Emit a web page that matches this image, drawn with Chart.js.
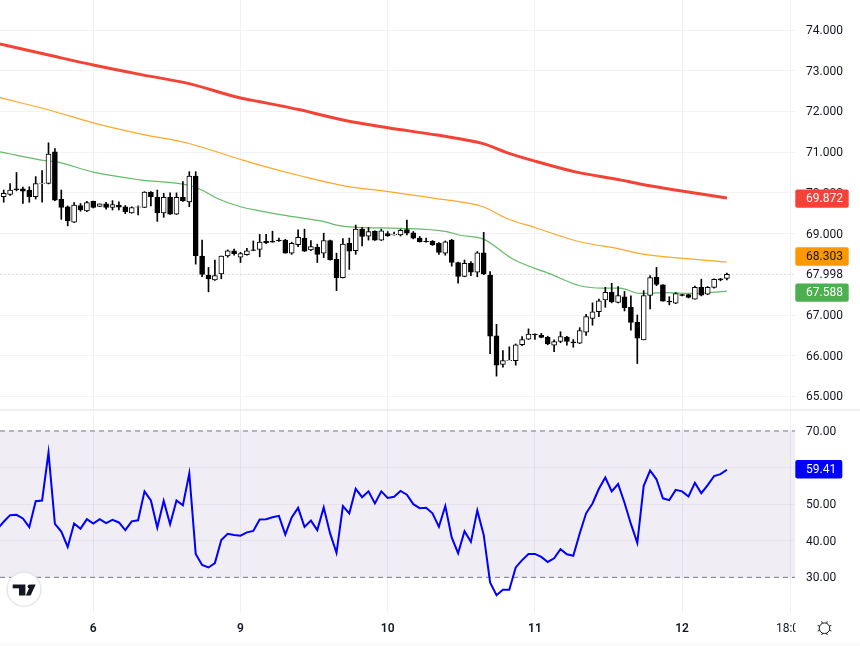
<!DOCTYPE html>
<html><head><meta charset="utf-8">
<style>html,body{margin:0;padding:0;background:#fff}canvas{display:block}</style>
<script src="https://cdn.jsdelivr.net/npm/chart.js@4"></script>
</head><body><canvas id="p" width="860" height="410"></canvas><canvas id="r" width="860" height="236"></canvas>
<script>
const opens=[69.91,69.96,70.10,70.10,70.07,69.91,70.23,70.23,71.01,69.84,69.66,69.28,69.69,69.56,69.79,69.67,69.73,69.64,69.70,69.66,69.51,69.65,69.64,70.02,69.89,69.51,69.89,69.48,69.89,69.78,
70.41,68.45,67.98,67.86,68.01,68.45,68.58,68.42,68.48,68.60,68.61,68.81,68.81,68.84,68.84,68.52,68.73,68.89,68.60,68.66,68.52,68.83,68.37,67.92,68.76,68.58,69.11,68.94,69.06,68.84,
69.00,68.97,68.97,69.10,69.02,68.89,68.81,68.81,68.76,68.52,68.84,68.29,67.95,68.27,68.05,68.53,67.98,66.49,65.79,65.88,65.88,66.27,66.41,66.53,66.51,66.45,66.26,66.35,66.46,66.34,
66.31,66.58,66.92,67.08,67.37,67.56,67.31,67.45,67.19,66.82,66.39,67.48,67.93,67.74,67.34,67.29,67.50,67.50,67.39,67.68,67.51,67.68,67.89,67.90];
const highs=[70.07,70.23,70.50,70.14,70.15,70.40,70.55,71.23,71.09,70.07,69.68,69.76,69.74,69.79,69.80,69.73,69.77,69.81,69.78,69.69,69.66,69.68,70.03,70.03,70.07,69.99,70.00,70.00,70.28,70.52,
70.52,68.84,68.17,68.35,68.45,68.60,68.62,68.54,68.64,68.82,68.98,68.98,69.06,68.89,68.86,68.79,69.09,69.11,68.83,68.74,69.01,68.84,68.52,68.88,68.89,69.21,69.15,69.15,69.07,69.11,
69.05,69.04,69.11,69.33,69.05,68.93,68.89,68.83,68.78,68.82,68.86,68.30,68.35,68.31,68.56,69.03,68.07,66.77,66.13,66.22,66.29,66.47,66.66,66.54,66.55,66.48,66.39,66.59,66.48,66.40,
66.69,67.02,67.30,67.39,67.68,67.78,67.70,67.58,67.47,67.00,67.60,67.97,68.17,67.75,67.45,67.55,67.51,67.51,67.71,67.88,67.70,67.89,67.90,68.03];
const lows=[69.77,69.94,70.05,69.74,69.77,69.85,69.77,70.22,69.81,69.35,69.19,69.27,69.55,69.54,69.63,69.66,69.60,69.58,69.58,69.49,69.50,69.46,69.64,69.68,69.30,69.40,69.47,69.47,69.79,69.66,
68.25,67.94,67.57,67.85,67.89,68.42,68.47,68.29,68.47,68.58,68.43,68.75,68.79,68.81,68.52,68.49,68.68,68.56,68.58,68.29,68.41,68.35,67.60,67.91,68.12,68.49,68.70,68.84,68.83,68.83,
68.93,68.96,68.94,68.97,68.87,68.79,68.79,68.71,68.49,68.47,68.20,67.78,67.94,67.97,67.94,67.99,66.05,65.50,65.72,65.88,65.77,66.25,66.40,66.40,66.44,66.27,66.10,66.32,66.26,66.21,
66.30,66.50,66.75,66.96,67.19,67.30,67.30,67.10,66.63,65.81,66.39,67.15,67.72,67.34,67.25,67.28,67.47,67.42,67.39,67.47,67.50,67.66,67.84,67.86];
const closes=[69.99,70.07,70.08,70.04,69.91,70.23,70.24,70.95,69.82,69.64,69.31,69.70,69.58,69.76,69.64,69.73,69.64,69.71,69.65,69.54,69.64,69.66,70.02,69.91,69.51,69.89,69.48,69.89,69.80,70.41,
68.46,68.00,67.89,67.97,68.45,68.58,68.51,68.51,68.58,68.59,68.79,68.78,68.79,68.82,68.52,68.76,68.91,68.57,68.68,68.49,68.83,68.36,67.92,68.74,68.57,69.11,68.93,69.05,68.84,69.07,
68.95,68.98,69.08,69.01,68.89,68.80,68.80,68.72,68.54,68.80,68.29,67.95,68.27,68.05,68.53,68.01,66.48,65.77,65.88,65.89,66.27,66.40,66.53,66.51,66.45,66.29,66.35,66.47,66.35,66.32,
66.62,66.96,67.08,67.35,67.56,67.33,67.48,67.18,66.82,66.43,67.48,67.92,67.75,67.34,67.32,67.53,67.48,67.43,67.68,67.49,67.68,67.88,67.86,67.998];

const redBars=[-0.6,7.2,14,21.3,28.8,37,40,46.3,53,60,67.7,74.9,78.6,83,89.5,96.3,99.4,106.2,113];
const redValues=[73.656,73.378,73.14,72.91,72.69,72.33,72.24,72.04,71.79,71.60,71.42,71.21,70.99,70.78,70.51,70.32,70.22,70.04,69.872];
const orangeBars=[-0.6,7.2,14,21.3,28.8,37,40,46.3,53,60,67.7,74.9,78.6,83,90,96.3,99.4,106.2,113];
const orangeValues=[72.34,72.03,71.72,71.45,71.22,70.82,70.68,70.42,70.18,70.03,69.86,69.66,69.37,69.15,68.80,68.62,68.51,68.39,68.303];
const greenBars=[-0.6,6.5,8.3,14,21.3,28.8,30.7,33.3,37,40,44.2,49.9,52,54.6,61.9,69.2,71.3,74.9,79.6,85.4,90,93.7,96.3,99.4,103.6,107.7,113];
const greenValues=[71.01,70.79,70.76,70.51,70.32,70.19,70.09,69.87,69.66,69.56,69.44,69.30,69.21,69.16,69.13,69.05,68.96,68.87,68.37,68.01,67.72,67.66,67.66,67.53,67.55,67.53,67.588];

const rsiLeadBar=-1, rsiLeadValue=43.2;
const rsiValues=[45.2,47.0,47.1,46.1,43.7,50.8,51.0,64.1,44.6,42.5,38.3,44.7,43.3,45.9,44.7,45.9,44.8,45.7,45.0,42.9,45.3,45.6,53.5,51.0,43.6,50.9,44.5,51.0,49.7,58.4,
36.4,33.4,32.7,33.9,40.2,41.9,41.6,41.4,42.3,42.7,45.8,45.9,46.4,46.8,41.7,46.4,49.0,43.8,45.5,42.9,49.1,42.0,36.7,49.5,47.5,54.2,51.9,53.5,50.2,53.5,
51.7,52.0,53.6,52.6,50.0,48.9,49.0,47.5,43.8,49.5,40.9,36.6,42.6,39.7,48.3,41.6,28.6,25.1,26.6,26.6,32.7,34.7,36.4,36.4,35.6,34.2,35.2,37.7,36.3,35.9,
42.0,47.5,50.2,54.2,57.3,53.5,55.5,50.4,44.6,39.4,55.0,59.2,56.8,51.6,51.1,53.9,53.5,52.1,55.8,53.0,55.2,57.7,58.2,59.41];

const priceTicks=[65,66,67,68,69,70,71,72,73,74];
const priceTickLabels=['65.000','66.000','67.000','','69.000','70.000','71.000','72.000','73.000','74.000'];
const rsiTicks=[30,40,50,60,70];
const rsiTickLabels=['30.00','40.00','50.00','','70.00'];
const timeTicks=[14,37,60,83,106,123];
const timeLabels=['6','9','10','11','12','18:00'];
const lastPrice=67.998, redLast=69.872, orangeLast=68.303, greenLast=67.588, rsiLast=59.41;
const rsiUpper=70, rsiLower=30;

const FONT='Roboto, "Liberation Sans", sans-serif';
const xMin=-0.578, xMax=123.64;
const pts=(xs,ys)=>ys.map((y,i)=>({x:xs[i],y}));
const bars=closes.map((_,i)=>i);
const noPad=s=>{s.paddingTop=0;s.paddingBottom=0;s.paddingLeft=0;s.paddingRight=0;};

function badge(c,val,txt,bg,fg,scale,dy,w){
  const yc=scale.getPixelForValue(val)+dy;
  if(bg){c.fillStyle=bg;c.beginPath();c.roundRect(795.3,yc-9.2,w,18.4,2);c.fill();}
  c.fillStyle=fg;c.font='12px '+FONT;c.textBaseline='middle';c.textAlign='left';
  c.fillText(txt,806,yc+0.5);
}
const pricePlugin={id:'priceLabels',afterDraw(ch){
  const c=ch.ctx,py=ch.scales.y;
  c.save();
  c.fillStyle='#eceef3';c.fillRect(0,409,860,1);
  badge(c,redLast,redLast.toFixed(3),'#f44336','#ffffff',py,0.5,53.4);
  badge(c,orangeLast,orangeLast.toFixed(3),'#ff9800','#131722',py,-5.5,53.4);
  badge(c,greenLast,greenLast.toFixed(3),'#4caf50','#ffffff',py,1.5,53.4);
  badge(c,lastPrice,lastPrice.toFixed(3),null,'#131722',py,0.5,0);
  c.restore();
}};
const rsiPlugin={id:'rsiLabels',afterDraw(ch){
  const c=ch.ctx,ry=ch.scales.rsi,ca=ch.chartArea;
  c.save();
  c.fillStyle='#eceef3';c.fillRect(0,0,860,0.8);
  c.fillStyle='#ffffff';c.fillRect(795.5,ca.bottom+1,65,33);
  c.fillStyle='#fafafa';c.fillRect(0,233,860,3);
  badge(c,rsiLast,rsiLast.toFixed(2),'#0000ff','#ffffff',ry,-0.5,47);
  c.beginPath();c.arc(24,179.3,17,0,Math.PI*2);c.fillStyle='#ffffff';c.fill();
  c.lineWidth=1.5;c.strokeStyle='#e6e7eb';c.stroke();
  c.fillStyle='#131722';
  c.fillRect(12.7,174.5,12.7,3.8);c.fillRect(19,178,6.4,7.5);
  c.beginPath();c.arc(29.6,176.5,2,0,Math.PI*2);c.fill();
  c.beginPath();c.moveTo(35.7,174.5);c.lineTo(30.6,185.5);c.lineTo(25.8,185.5);c.lineTo(30.8,174.5);c.closePath();c.fill();
  c.strokeStyle='#131722';c.lineWidth=1;
  c.beginPath();c.arc(824.5,218.2,5.3,0,Math.PI*2);c.stroke();
  for(let k=0;k<8;k++){const a=k*Math.PI/4+Math.PI/8;
    c.beginPath();c.moveTo(824.5+5.3*Math.cos(a),218.2+5.3*Math.sin(a));c.lineTo(824.5+7.4*Math.cos(a),218.2+7.4*Math.sin(a));c.stroke();}
  c.restore();
}};

const base={responsive:false,animation:false,devicePixelRatio:1,layout:{padding:0},
  plugins:{legend:{display:false},tooltip:{enabled:false},title:{display:false}}};
const xGrid={color:'#f0f1f4',drawTicks:false,offset:false};

new Chart(document.getElementById('p'),{
  data:{datasets:[
    {type:'line',data:pts([xMin,xMax],[lastPrice,lastPrice]),borderColor:'#d9dbe0',borderWidth:1,borderDash:[2,2],pointRadius:0,order:9},
    {type:'line',data:pts(redBars,redValues),borderColor:'#f44336',borderWidth:3,pointRadius:0,cubicInterpolationMode:'monotone',order:6},
    {type:'line',data:pts(orangeBars,orangeValues),borderColor:'#ffa726',borderWidth:1.2,pointRadius:0,cubicInterpolationMode:'monotone',order:6},
    {type:'line',data:pts(greenBars,greenValues),borderColor:'#66bb6a',borderWidth:1.2,pointRadius:0,cubicInterpolationMode:'monotone',order:6},
    {type:'bar',data:bars.map(i=>({x:i,y:[lows[i],highs[i]]})),backgroundColor:'#000000',borderWidth:0,barThickness:1,grouped:false,order:3},
    {type:'bar',data:bars.map(i=>({x:i,y:[Math.min(opens[i],closes[i]),Math.max(opens[i],closes[i])]})),
      backgroundColor:bars.map(i=>closes[i]>=opens[i]?'#ffffff':'#000000'),borderColor:'#000000',borderWidth:1,borderSkipped:false,barThickness:5,grouped:false,order:2}
  ]},
  options:{...base,scales:{
    x:{type:'linear',position:'bottom',offset:false,min:xMin,max:xMax,
      afterBuildTicks(s){s.ticks=timeTicks.map(v=>({value:v}));},
      afterFit(s){s.height=0;noPad(s);},
      grid:xGrid,border:{display:false},ticks:{display:false}},
    y:{type:'linear',position:'right',min:64.668,max:74.737,
      afterBuildTicks(s){s.ticks=priceTicks.map(v=>({value:v}));},
      afterFit(s){s.width=65;noPad(s);},
      grid:{color:ctx=>ctx.tick&&ctx.tick.value===68?'rgba(0,0,0,0)':'#f2f3f5',drawTicks:false},border:{display:false},
      ticks:{padding:11,labelOffset:1,color:'#131722',font:{family:FONT,size:12},callback:(v,i)=>priceTickLabels[i]}}
  }},
  plugins:[pricePlugin]
});

new Chart(document.getElementById('r'),{
  data:{datasets:[
    {type:'line',data:pts([xMin,xMax],[rsiUpper,rsiUpper]),borderColor:'#787b86',borderWidth:1,borderDash:[5,4],pointRadius:0,fill:'+1',backgroundColor:'rgba(126,87,166,0.11)',yAxisID:'rsi',order:8},
    {type:'line',data:pts([xMin,xMax],[rsiLower,rsiLower]),borderColor:'#787b86',borderWidth:1,borderDash:[5,4],pointRadius:0,yAxisID:'rsi',order:8},
    {type:'line',data:[{x:rsiLeadBar,y:rsiLeadValue},...pts(bars,rsiValues)],borderColor:'#0000ff',borderWidth:2,pointRadius:0,yAxisID:'rsi',order:1}
  ]},
  options:{...base,scales:{
    x:{type:'linear',position:'bottom',min:xMin,max:xMax,
      afterBuildTicks(s){s.ticks=timeTicks.map(v=>({value:v}));},
      afterFit(s){s.height=33;noPad(s);},
      grid:xGrid,border:{display:false},
      ticks:{autoSkip:false,maxRotation:0,padding:9,color:'#131722',
        font:ctx=>({family:FONT,size:12,weight:ctx.index===5?'400':'600'}),
        callback:(v,i)=>timeLabels[i]}},
    rsi:{type:'linear',position:'right',min:20.25,max:75.74,
      afterBuildTicks(s){s.ticks=rsiTicks.map(v=>({value:v}));},
      afterFit(s){s.width=65;noPad(s);},
      grid:{color:'rgba(110,90,150,0.07)',drawTicks:false},border:{display:false},
      ticks:{padding:11,labelOffset:1,color:'#131722',font:{family:FONT,size:12},callback:(v,i)=>rsiTickLabels[i]}}
  }},
  plugins:[rsiPlugin]
});
</script></body></html>
